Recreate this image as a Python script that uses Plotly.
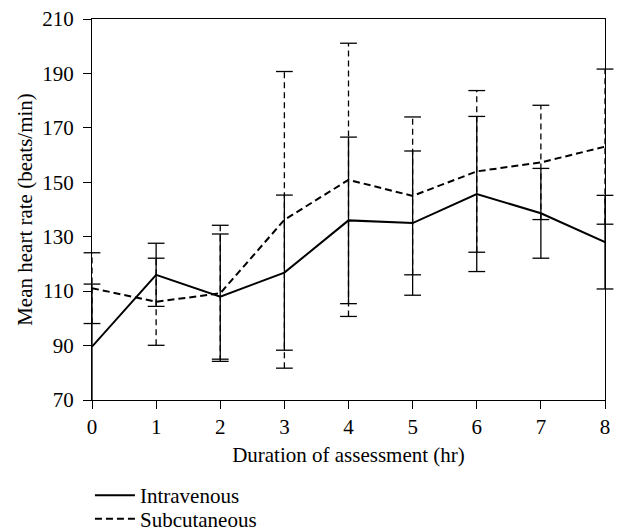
import plotly.graph_objects as go

hours = [0, 1, 2, 3, 4, 5, 6, 7, 8]
iv_mean = [89.6, 116.0, 108.0, 116.8, 136.0, 135.0, 145.7, 138.6, 128.0]
iv_err = [23.0, 11.6, 23.0, 28.5, 30.6, 26.5, 28.5, 16.5, 17.2]
sc_mean = [111.1, 106.1, 109.2, 136.2, 150.9, 145.0, 154.0, 157.3, 163.1]
sc_err = [13.0, 16.0, 25.0, 54.5, 50.2, 29.0, 29.7, 21.0, 28.5]
series_names = ["Intravenous", "Subcutaneous"]
y_ticks = [70, 90, 110, 130, 150, 170, 190, 210]
y_range = [70, 210]

FONT = "Liberation Serif"
FS = 21
fig = go.Figure()


def add_series(name, mean, err, dash, bar_dash, legend_id):
    # vertical error segments
    xs, ys = [], []
    cx, cy = [], []
    for x, m, e in zip(hours, mean, err):
        xs += [x, x, None]
        ys += [max(m - e, y_range[0]), min(m + e, y_range[1]), None]
        for v in (m - e, m + e):
            if y_range[0] <= v <= y_range[1]:
                cx.append(x)
                cy.append(v)
    fig.add_trace(go.Scatter(x=xs, y=ys, mode="lines", showlegend=False,
                             hoverinfo="skip",
                             line=dict(color="black", width=1.3, dash=bar_dash)))
    fig.add_trace(go.Scatter(x=cx, y=cy, mode="markers", showlegend=False,
                             hoverinfo="skip", cliponaxis=False,
                             marker=dict(symbol="line-ew", size=12, color="black",
                                         line=dict(color="black", width=1.3))))
    fig.add_trace(go.Scatter(x=hours, y=mean, mode="lines", name=name,
                             legend=legend_id,
                             line=dict(color="black", width=2, dash=dash)))


add_series(series_names[0], iv_mean, iv_err, "solid", "solid", "legend")
add_series(series_names[1], sc_mean, sc_err, "7px,4px", "6px,4px", "legend2")

legend_common = dict(x=-0.004, xanchor="left", yanchor="top", itemwidth=40,
                     font=dict(family=FONT, size=FS, color="black"),
                     bgcolor="rgba(0,0,0,0)")

fig.update_layout(
    width=622, height=531,
    margin=dict(l=92, r=17, t=19, b=131, autoexpand=False),
    paper_bgcolor="white", plot_bgcolor="white",
    font=dict(family=FONT, size=FS, color="black"),
    showlegend=True,
    legend=dict(y=-0.197, **legend_common),
    legend2=dict(y=-0.259, **legend_common),
)
fig.update_xaxes(range=[0, 8], tickvals=hours, ticks="outside", ticklen=8,
                 tickwidth=1.3, tickcolor="black", showline=True, linecolor="black",
                 linewidth=1.3, mirror=True, showgrid=False, zeroline=False,
                 title=dict(text="Duration of assessment (hr)", standoff=8,
                            font=dict(family=FONT, size=FS, color="black")),
                 tickfont=dict(size=FS))
fig.update_yaxes(range=y_range, tickvals=y_ticks, ticks="outside", ticklen=8,
                 tickwidth=1.3, tickcolor="black", showline=True, linecolor="black",
                 linewidth=1.3, mirror=True, showgrid=False, zeroline=False,
                 ticklabelstandoff=5,
                 title=dict(text="Mean heart rate (beats/min)", standoff=3,
                            font=dict(family=FONT, size=FS, color="black")),
                 tickfont=dict(size=FS))

fig.write_html("out.html")
